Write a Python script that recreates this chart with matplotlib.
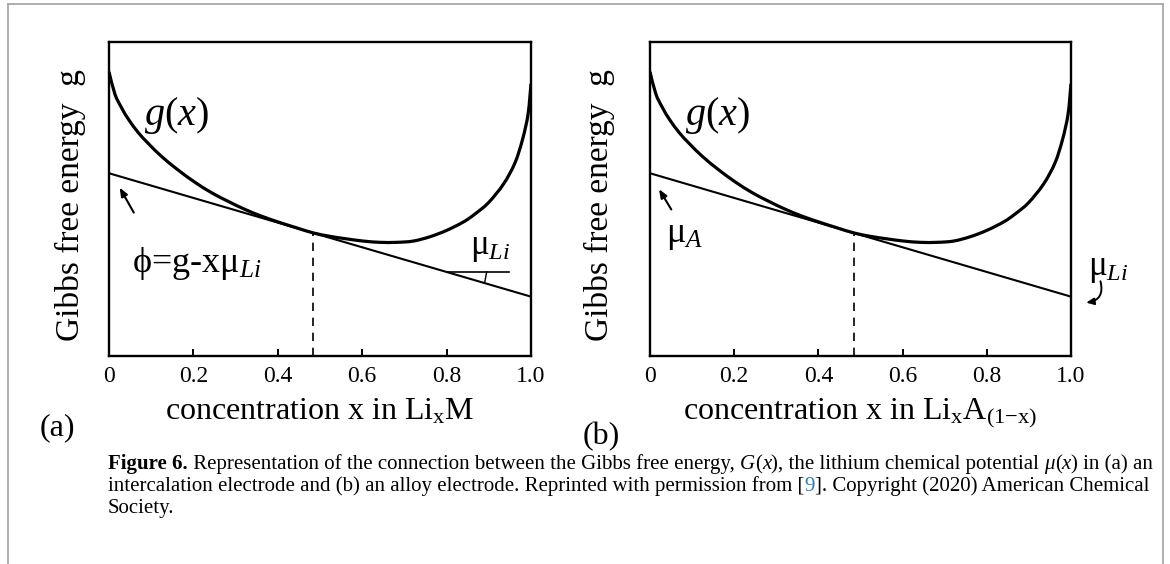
import matplotlib
matplotlib.use("Agg")
import matplotlib.pyplot as plt
from matplotlib.font_manager import FontProperties
from matplotlib.lines import Line2D
from matplotlib.path import Path
from matplotlib.patches import PathPatch

# ---- data -------------------------------------------------------------
conc = [0.000, 0.014, 0.030, 0.046, 0.069, 0.093, 0.125, 0.164, 0.204, 0.243,
        0.283, 0.322, 0.362, 0.405, 0.445, 0.484, 0.524, 0.563, 0.603, 0.642,
        0.682, 0.721, 0.761, 0.800, 0.840, 0.867, 0.899, 0.935, 0.962, 0.980,
        0.993, 1.000]
g_free = [0.905, 0.834, 0.790, 0.754, 0.712, 0.677, 0.635, 0.592, 0.553, 0.520,
          0.492, 0.467, 0.445, 0.425, 0.408, 0.392, 0.381, 0.373, 0.366, 0.362,
          0.362, 0.366, 0.380, 0.400, 0.427, 0.452, 0.488, 0.548, 0.615, 0.690,
          0.770, 0.867]
tangent_x = [0.0, 1.0]
tangent_y = [0.582, 0.189]
contact_x = 0.484
tick_pos = [0.0, 0.2, 0.4, 0.6, 0.8, 1.0]
tick_lab = ["0", "0.2", "0.4", "0.6", "0.8", "1.0"]

W, H = 1170, 564
plt.rcParams["font.family"] = ["Liberation Serif", "DejaVu Serif"]
plt.rcParams["mathtext.fontset"] = "custom"
plt.rcParams["mathtext.rm"] = "Liberation Serif"
plt.rcParams["mathtext.it"] = "Liberation Serif:italic"
plt.rcParams["mathtext.bf"] = "Liberation Serif:bold"

fig = plt.figure(figsize=(W / 100, H / 100), dpi=100)


def px_axes(left, top, right, bottom):
    return [left / W, 1 - bottom / H, (right - left) / W, (bottom - top) / H]


def line_at(x):
    return tangent_y[0] + (tangent_y[1] - tangent_y[0]) * (x - tangent_x[0]) / (tangent_x[1] - tangent_x[0])


def smooth_path(xs, ys):
    """Cubic Bezier path passing through every point (Catmull-Rom handles)."""
    pts = list(zip(xs, ys))
    n = len(pts)
    verts = [pts[0]]
    codes = [Path.MOVETO]
    for i in range(n - 1):
        p0 = pts[max(i - 1, 0)]
        p1 = pts[i]
        p2 = pts[i + 1]
        p3 = pts[min(i + 2, n - 1)]
        c1 = (p1[0] + (p2[0] - p0[0]) / 6, p1[1] + (p2[1] - p0[1]) / 6)
        c2 = (p2[0] - (p3[0] - p1[0]) / 6, p2[1] - (p3[1] - p1[1]) / 6)
        verts += [c1, c2, p2]
        codes += [Path.CURVE4] * 3
    return Path(verts, codes)


def panel(ax, xlabel, ylabel_x):
    ax.add_patch(PathPatch(smooth_path(conc, g_free), fill=False,
                           edgecolor="black", lw=2.3, capstyle="butt"))
    ax.plot(tangent_x, tangent_y, color="black", lw=1.5)
    ax.plot([contact_x, contact_x], [0, line_at(contact_x)], color="black",
            lw=1.2, dashes=(5, 4))
    ax.set_xlim(0, 1)
    ax.set_ylim(0, 1)
    for s in ax.spines.values():
        s.set_linewidth(1.7)
    ax.set_xticks(tick_pos)
    ax.set_xticklabels(tick_lab)
    ax.set_yticks([])
    ax.tick_params(axis="x", direction="in", length=5, width=1.4, pad=7,
                   labelsize=17)
    ax.set_xlabel(xlabel, fontsize=23)
    ax.xaxis.set_label_coords(0.5, -0.13)
    ax.set_ylabel("Gibbs free energy  g", fontsize=24)
    ax.yaxis.set_label_coords(ylabel_x, 0.48)
    ax.text(0.16, 0.767, r"$g(x)$", fontsize=29, ha="center", va="center")


ax1 = fig.add_axes(px_axes(109, 42, 531, 356))
ax2 = fig.add_axes(px_axes(650, 42, 1071, 356))

panel(ax1, r"concentration x in Li$_{\mathregular{x}}$M", -0.055)
panel(ax2, r"concentration x in Li$_{\mathregular{x}}$A$_{\mathregular{(1{-}x)}}$", -0.083)

# panel (a) annotations
ax1.annotate("", xy=(0.022, 0.544), xytext=(0.062, 0.449),
             arrowprops=dict(arrowstyle="-|>,head_length=0.5,head_width=0.2",
                             color="black", lw=1.5))
ax1.text(0.208, 0.296, "ϕ=g-xμ$_{Li}$", fontsize=26, ha="center", va="center")
ax1.text(0.903, 0.344, "μ$_{Li}$", fontsize=25, ha="center", va="center")
ax1.plot([0.80, 0.948], [0.268, 0.268], color="black", lw=1.2)
ax1.plot([0.895, 0.890], [0.268, line_at(0.890)], color="black", lw=1.0)

# panel (b) annotations
ax2.annotate("", xy=(0.018, 0.539), xytext=(0.054, 0.459),
             arrowprops=dict(arrowstyle="-|>,head_length=0.5,head_width=0.2",
                             color="black", lw=1.5))
ax2.text(0.082, 0.385, "μ$_{A}$", fontsize=26, ha="center", va="center")
ax2.text(1.089, 0.279, "μ$_{Li}$", fontsize=25, ha="center", va="center",
         clip_on=False)
ax2.annotate("", xy=(1.036, 0.170), xytext=(1.070, 0.238),
             xycoords="axes fraction", textcoords="axes fraction",
             arrowprops=dict(arrowstyle="-|>,head_length=0.45,head_width=0.2",
                             color="black", lw=1.4, shrinkA=0, shrinkB=0,
                             connectionstyle="arc3,rad=-0.55"),
             annotation_clip=False)

fig.text(57 / W, 1 - 428 / H, "(a)", fontsize=23, ha="center", va="center")
fig.text(601 / W, 1 - 437 / H, "(b)", fontsize=23, ha="center", va="center")

# page frame
frame = dict(transform=fig.transFigure, color="#a8a8a8", lw=1.3)
fig.add_artist(Line2D([8 / W, 8 / W], [0, 1 - 4 / H], **frame))
fig.add_artist(Line2D([8 / W, 1163 / W], [1 - 4 / H, 1 - 4 / H], **frame))
fig.add_artist(Line2D([1163 / W, 1163 / W], [0, 1 - 4 / H], **frame))

# caption, set run by run
renderer = fig.canvas.get_renderer()


def run_width(s, fp):
    a = fig.text(0, 0, "|" + s + "|", fontproperties=fp)
    b = fig.text(0, 0, "||", fontproperties=fp)
    w = a.get_window_extent(renderer).width - b.get_window_extent(renderer).width
    a.remove()
    b.remove()
    return w


def set_line(x, y, runs):
    for s, fp, col in runs:
        fig.text(x / W, 1 - y / H, s, fontproperties=fp, color=col,
                 ha="left", va="baseline")
        x += run_width(s, fp)


def build(size):
    reg = FontProperties(family="Liberation Serif", size=size)
    ita = FontProperties(family="Liberation Serif", style="italic", size=size)
    bol = FontProperties(family="Liberation Serif", weight="bold", size=size)
    k = "black"
    line1 = [("Figure 6.", bol, k),
             (" Representation of the connection between the Gibbs free energy, ", reg, k),
             ("G", ita, k), ("(", reg, k), ("x", ita, k), ("), the lithium chemical potential ", reg, k),
             ("μ", ita, k), ("(", reg, k), ("x", ita, k), (") in (a) an", reg, k)]
    line2 = [("intercalation electrode and (b) an alloy electrode. Reprinted with permission from [", reg, k),
             ("9", reg, "#2a7fb8"),
             ("]. Copyright (2020) American Chemical", reg, k)]
    line3 = [("Society.", reg, k)]
    return line1, line2, line3


l1, _, _ = build(10)
cap_size = 10 * 1040 / sum(run_width(s, fp) for s, fp, _ in l1)
l1, l2, l3 = build(cap_size)
set_line(108, 469, l1)
set_line(108, 491, l2)
set_line(108, 513, l3)

fig.savefig("out.png", dpi=100)
